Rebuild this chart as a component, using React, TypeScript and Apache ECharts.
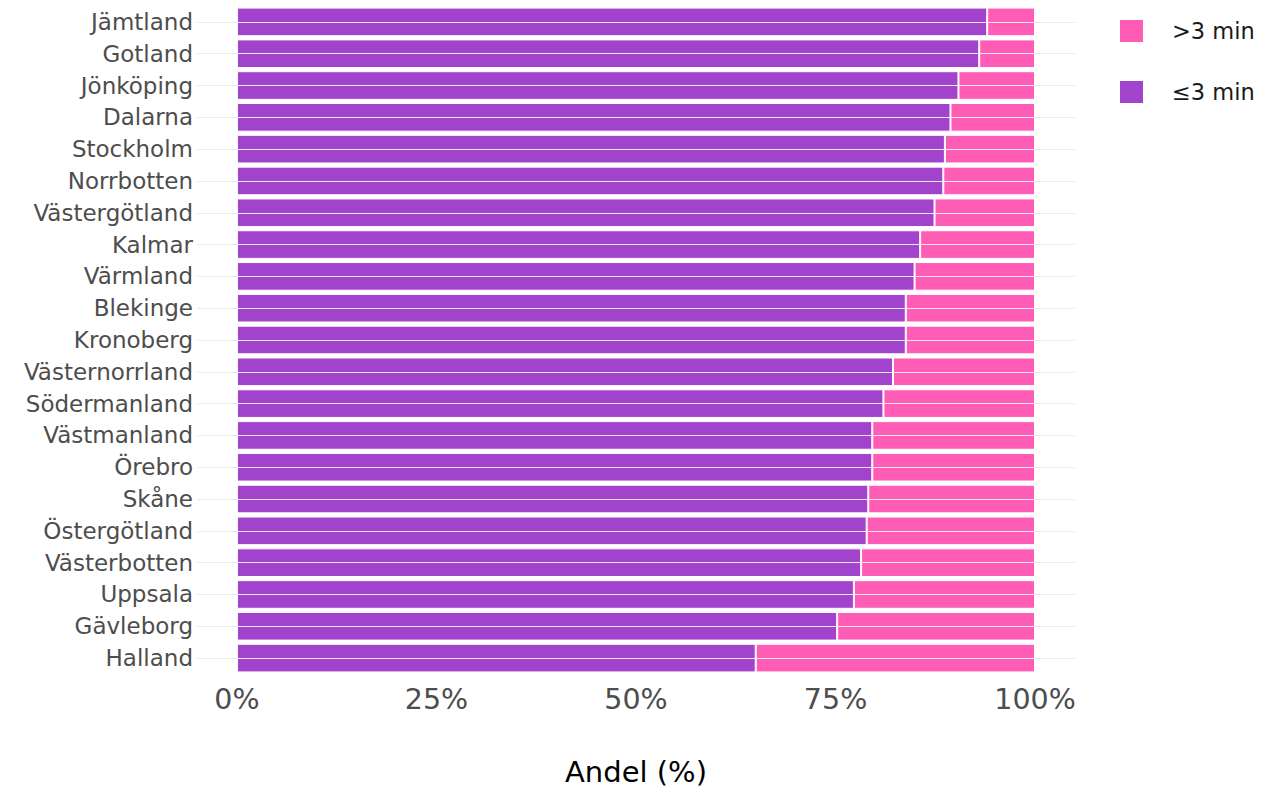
import React, { useEffect, useRef } from "react";
import * as echarts from "echarts";

const regions = [
  "Jämtland", "Gotland", "Jönköping", "Dalarna", "Stockholm", "Norrbotten",
  "Västergötland", "Kalmar", "Värmland", "Blekinge", "Kronoberg",
  "Västernorrland", "Södermanland", "Västmanland", "Örebro", "Skåne",
  "Östergötland", "Västerbotten", "Uppsala", "Gävleborg", "Halland",
];

const within3 = [
  94.0, 93.0, 90.4, 89.4, 88.7, 88.5, 87.4, 85.6, 84.9, 83.8, 83.8,
  82.2, 81.0, 79.6, 79.6, 79.1, 78.9, 78.2, 77.3, 75.2, 65.0,
];

const over3 = within3.map((v) => Math.round((100 - v) * 10) / 10);

const xTicks = [0, 25, 50, 75, 100];

const PURPLE = "#A143CC";
const PINK = "#FF5CB6";
const FONT = "DejaVu Sans";

export default function App() {
  const ref = useRef<HTMLDivElement>(null);
  useEffect(() => {
    if (!ref.current) return;
    const chart = echarts.init(ref.current, undefined, { renderer: "svg" });
    const cats = [...regions].reverse();
    const w3 = [...within3].reverse();
    const o3 = [...over3].reverse();
    chart.setOption({
      animation: false,
      backgroundColor: "#ffffff",
      textStyle: { fontFamily: FONT },
      grid: { left: 197, right: 198, top: 6, bottom: 119, containLabel: false },
      legend: {
        orient: "vertical",
        left: 1118,
        top: 18,
        padding: 0,
        itemWidth: 25,
        itemHeight: 24,
        itemGap: 35,
        icon: "rect",
        data: [">3 min", "≤3 min"],
        textStyle: {
          fontFamily: FONT,
          fontSize: 22.5,
          lineHeight: 24,
          color: "#1a1a1a",
          padding: [0, 0, 0, 23],
        },
      },
      xAxis: {
        type: "value",
        min: -5,
        max: 105,
        interval: 5,
        axisLine: { show: false },
        axisTick: { show: false },
        splitLine: { show: false },
        axisLabel: {
          margin: 11,
          fontFamily: FONT,
          fontSize: 28.5,
          color: "#4d4d4d",
          formatter: (v: number) => (xTicks.includes(Math.round(v)) ? `${Math.round(v)}%` : ""),
        },
        name: "Andel (%)",
        nameLocation: "middle",
        nameGap: 83,
        nameTextStyle: { fontFamily: FONT, fontSize: 29, color: "#000000" },
      },
      yAxis: {
        type: "category",
        data: cats,
        axisLine: { show: false },
        axisTick: { show: false },
        splitLine: { show: false },
        axisLabel: { margin: 4, fontFamily: FONT, fontSize: 23, color: "#4d4d4d" },
      },
      series: [
        {
          name: "gridlines",
          type: "line",
          data: [],
          z: 1,
          silent: true,
          markLine: {
            symbol: "none",
            silent: true,
            label: { show: false },
            lineStyle: { color: "#ebebeb", width: 1.2, type: "solid" },
            data: cats.map((c) => ({ yAxis: c })),
          },
        },
        {
          name: "≤3 min",
          type: "bar",
          stack: "total",
          data: w3,
          barWidth: "90%",
          z: 3,
          itemStyle: { color: PURPLE, borderColor: "#ffffff", borderWidth: 1 },
        },
        {
          name: ">3 min",
          type: "bar",
          stack: "total",
          data: o3,
          barWidth: "90%",
          z: 3,
          itemStyle: { color: PINK, borderColor: "#ffffff", borderWidth: 1 },
        },
      ],
    });
    return () => chart.dispose();
  }, []);
  return (
    <div
      ref={ref}
      style={{ position: "fixed", left: 0, top: 0, width: 1273, height: 793, background: "#fff" }}
    />
  );
}
